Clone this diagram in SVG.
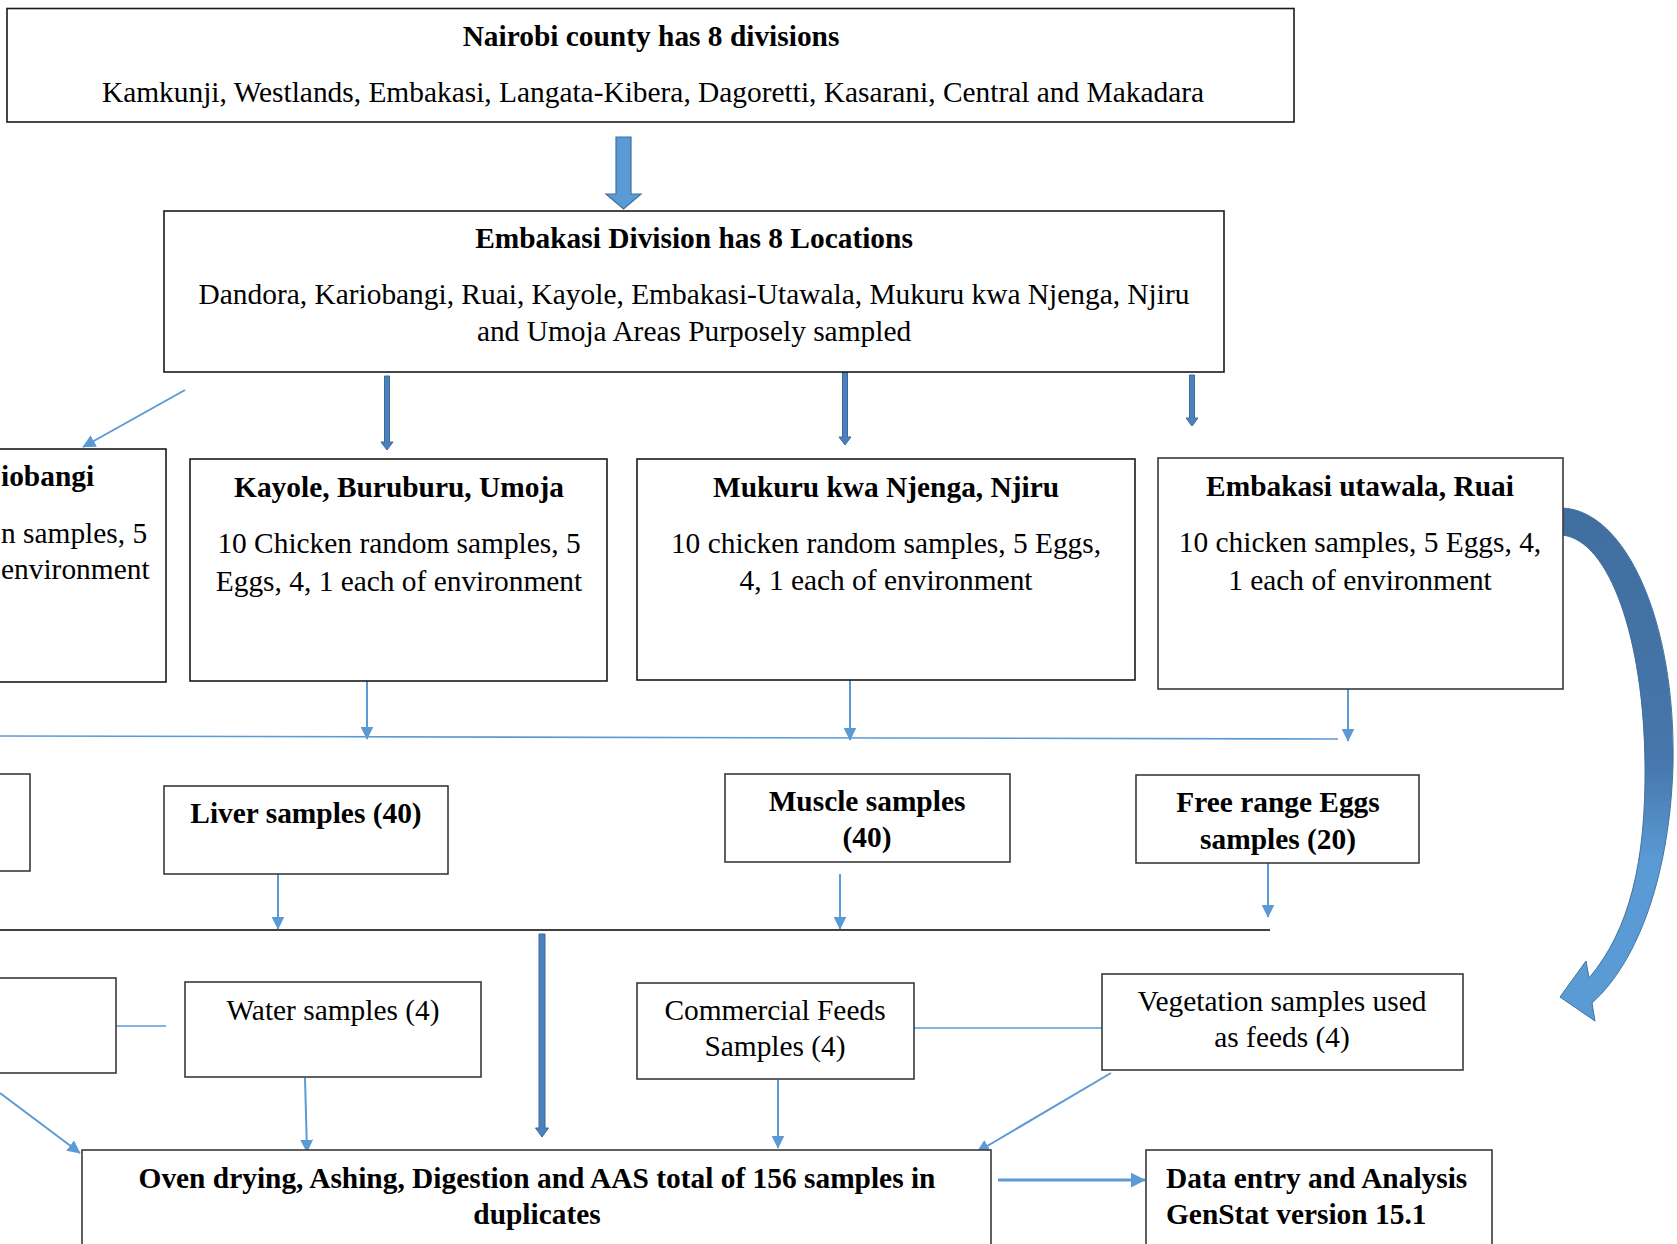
<svg xmlns="http://www.w3.org/2000/svg" width="1677" height="1244" viewBox="0 0 1677 1244">
<defs>
<style>
.box{fill:#fff;stroke:#1a1a1a;stroke-width:1.6}
.box2{fill:#fff;stroke:#3a3a3a;stroke-width:1.6}
.t{font-family:"Liberation Serif","Times New Roman",serif;font-size:29.4px;fill:#000;text-anchor:middle}
.b{font-weight:bold}
.e{text-anchor:end}
.s{text-anchor:start}
.thin{stroke:#5B9BD5;stroke-width:2;fill:none;marker-end:url(#ah)}
.plain{stroke:#5B9BD5;stroke-width:1.6;fill:none}
.blk{fill:#4A80BC;stroke:#3C6A9A;stroke-width:1}
</style>
<marker id="ah" viewBox="0 0 10 10" refX="9.5" refY="5" markerWidth="13" markerHeight="13" markerUnits="userSpaceOnUse" orient="auto"><path d="M0,0 L10,5 L0,10 z" fill="#5B9BD5"/></marker>
<marker id="ah2" viewBox="0 0 10 10" refX="9.5" refY="5" markerWidth="15" markerHeight="17" markerUnits="userSpaceOnUse" orient="auto"><path d="M0,0 L10,5 L0,10 z" fill="#5B9BD5"/></marker>
<linearGradient id="cg" x1="0" y1="500" x2="0" y2="1020" gradientUnits="userSpaceOnUse">
<stop offset="0" stop-color="#3F6E9E"/>
<stop offset="0.5" stop-color="#4676AB"/>
<stop offset="0.7" stop-color="#5B9BD5"/>
<stop offset="1" stop-color="#5B9BD5"/>
</linearGradient>
</defs>

<g id="connectors">
<path d="M616,137 L631,137 L631,194 L641,194 L623.5,209 L606,194 L616,194 Z" fill="#5B9BD5" stroke="#41719C" stroke-width="1.2"/>
<line class="thin" x1="185" y1="390" x2="83" y2="447"/>
<path class="blk" d="M384.5,376 L389.5,376 L389.5,442 L393,442 L387,450 L381,442 L384.5,442 Z"/>
<path class="blk" d="M842.5,372 L847.5,372 L847.5,437 L851,437 L845,445 L839,437 L842.5,437 Z"/>
<path class="blk" d="M1189.5,375 L1194.5,375 L1194.5,418 L1198,418 L1192,426 L1186,418 L1189.5,418 Z"/>
<line class="plain" x1="0" y1="736" x2="1338" y2="739"/>
<line class="thin" x1="367" y1="677" x2="367" y2="739"/>
<line class="thin" x1="850" y1="680" x2="850" y2="740"/>
<line class="thin" x1="1348" y1="680" x2="1348" y2="741"/>
<line x1="0" y1="930" x2="1270" y2="930" stroke="#404040" stroke-width="2"/>
<line class="thin" x1="278" y1="874" x2="278" y2="929"/>
<line class="thin" x1="840" y1="874" x2="840" y2="929"/>
<line class="thin" x1="1268" y1="862" x2="1268" y2="917"/>
<path class="blk" d="M539,934 L545,934 L545,1128 L548.5,1128 L542,1137 L535.5,1128 L539,1128 Z"/>
<line class="plain" x1="116" y1="1026" x2="166" y2="1026"/>
<line class="plain" x1="914" y1="1028" x2="1102" y2="1028"/>
<line class="thin" x1="0" y1="1093" x2="80" y2="1153"/>
<line class="thin" x1="305" y1="1078" x2="307" y2="1152"/>
<line class="thin" x1="778" y1="1080" x2="778" y2="1148"/>
<line class="thin" x1="1111" y1="1073" x2="977" y2="1152"/>
<line x1="998" y1="1180" x2="1145" y2="1180" stroke="#5B9BD5" stroke-width="3" marker-end="url(#ah2)"/>
<path d="M1562,508 C1625,510 1676,620 1673,765 C1670,870 1640,960 1592,1003 L1595,1021 L1560,997 L1586,961 L1589,978 C1630,930 1646,860 1645,765 C1644,640 1610,540 1562,535 Z" fill="url(#cg)" stroke="#41719C" stroke-width="1"/>
</g>

<g id="node-nairobi">
<rect class="box" x="7" y="8.5" width="1287" height="113.5"/>
<text class="t b" x="651" y="46">Nairobi county has 8 divisions</text>
<text class="t" x="653" y="102">Kamkunji, Westlands, Embakasi, Langata-Kibera, Dagoretti, Kasarani, Central and Makadara</text>
</g>

<g id="node-embakasi-division">
<rect class="box" x="164" y="211" width="1060" height="161"/>
<text class="t b" x="694" y="248">Embakasi Division has 8 Locations</text>
<text class="t" x="694" y="304">Dandora, Kariobangi, Ruai, Kayole, Embakasi-Utawala, Mukuru kwa Njenga, Njiru</text>
<text class="t" x="694" y="341">and Umoja Areas Purposely sampled</text>
</g>

<g id="node-kariobangi">
<rect class="box" x="-10" y="449" width="176" height="233"/>
<text class="t b s" x="1" y="486">iobangi</text>
<text class="t s" x="1" y="543">n samples, 5</text>
<text class="t s" x="1" y="579">environment</text>
</g>

<g id="node-kayole">
<rect class="box" x="190" y="459" width="417" height="222"/>
<text class="t b" x="399" y="497">Kayole, Buruburu, Umoja</text>
<text class="t" x="399" y="553">10 Chicken random samples, 5</text>
<text class="t" x="399" y="591">Eggs, 4, 1 each of environment</text>
</g>

<g id="node-mukuru">
<rect class="box" x="637" y="459" width="498" height="221"/>
<text class="t b" x="886" y="497">Mukuru kwa Njenga, Njiru</text>
<text class="t" x="886" y="553">10 chicken random samples, 5 Eggs,</text>
<text class="t" x="886" y="590">4, 1 each of environment</text>
</g>

<g id="node-utawala">
<rect class="box2" x="1158" y="458" width="405" height="231"/>
<text class="t b" x="1360" y="496">Embakasi utawala, Ruai</text>
<text class="t" x="1360" y="552">10 chicken samples, 5 Eggs, 4,</text>
<text class="t" x="1360" y="590">1 each of environment</text>
</g>

<g id="node-left4">
<rect class="box2" x="-10" y="774" width="40" height="97"/>
</g>

<g id="node-liver">
<rect class="box2" x="164" y="786" width="284" height="88"/>
<text class="t b" x="306" y="823">Liver samples (40)</text>
</g>

<g id="node-muscle">
<rect class="box2" x="725" y="774" width="285" height="88"/>
<text class="t b" x="867" y="811">Muscle samples</text>
<text class="t b" x="867" y="847">(40)</text>
</g>

<g id="node-eggs">
<rect class="box2" x="1136" y="775" width="283" height="88"/>
<text class="t b" x="1278" y="812">Free range Eggs</text>
<text class="t b" x="1278" y="849">samples (20)</text>
</g>

<g id="node-left5">
<rect class="box2" x="-10" y="978" width="126" height="95"/>
</g>

<g id="node-water">
<rect class="box2" x="185" y="982" width="296" height="95"/>
<text class="t" x="333" y="1020">Water samples (4)</text>
</g>

<g id="node-feeds">
<rect class="box2" x="637" y="983" width="277" height="96"/>
<text class="t" x="775" y="1020">Commercial Feeds</text>
<text class="t" x="775" y="1056">Samples (4)</text>
</g>

<g id="node-vegetation">
<rect class="box2" x="1102" y="974" width="361" height="96"/>
<text class="t" x="1282" y="1011">Vegetation samples used</text>
<text class="t" x="1282" y="1047">as feeds (4)</text>
</g>

<g id="node-oven">
<rect class="box2" x="82" y="1150" width="909" height="110"/>
<text class="t b" x="537" y="1188">Oven drying, Ashing, Digestion and AAS total of 156 samples in</text>
<text class="t b" x="537" y="1224">duplicates</text>
</g>

<g id="node-data">
<rect class="box2" x="1146" y="1150" width="346" height="110"/>
<text class="t b s" x="1166" y="1188">Data entry and Analysis</text>
<text class="t b s" x="1166" y="1224">GenStat version 15.1</text>
</g>
</svg>
